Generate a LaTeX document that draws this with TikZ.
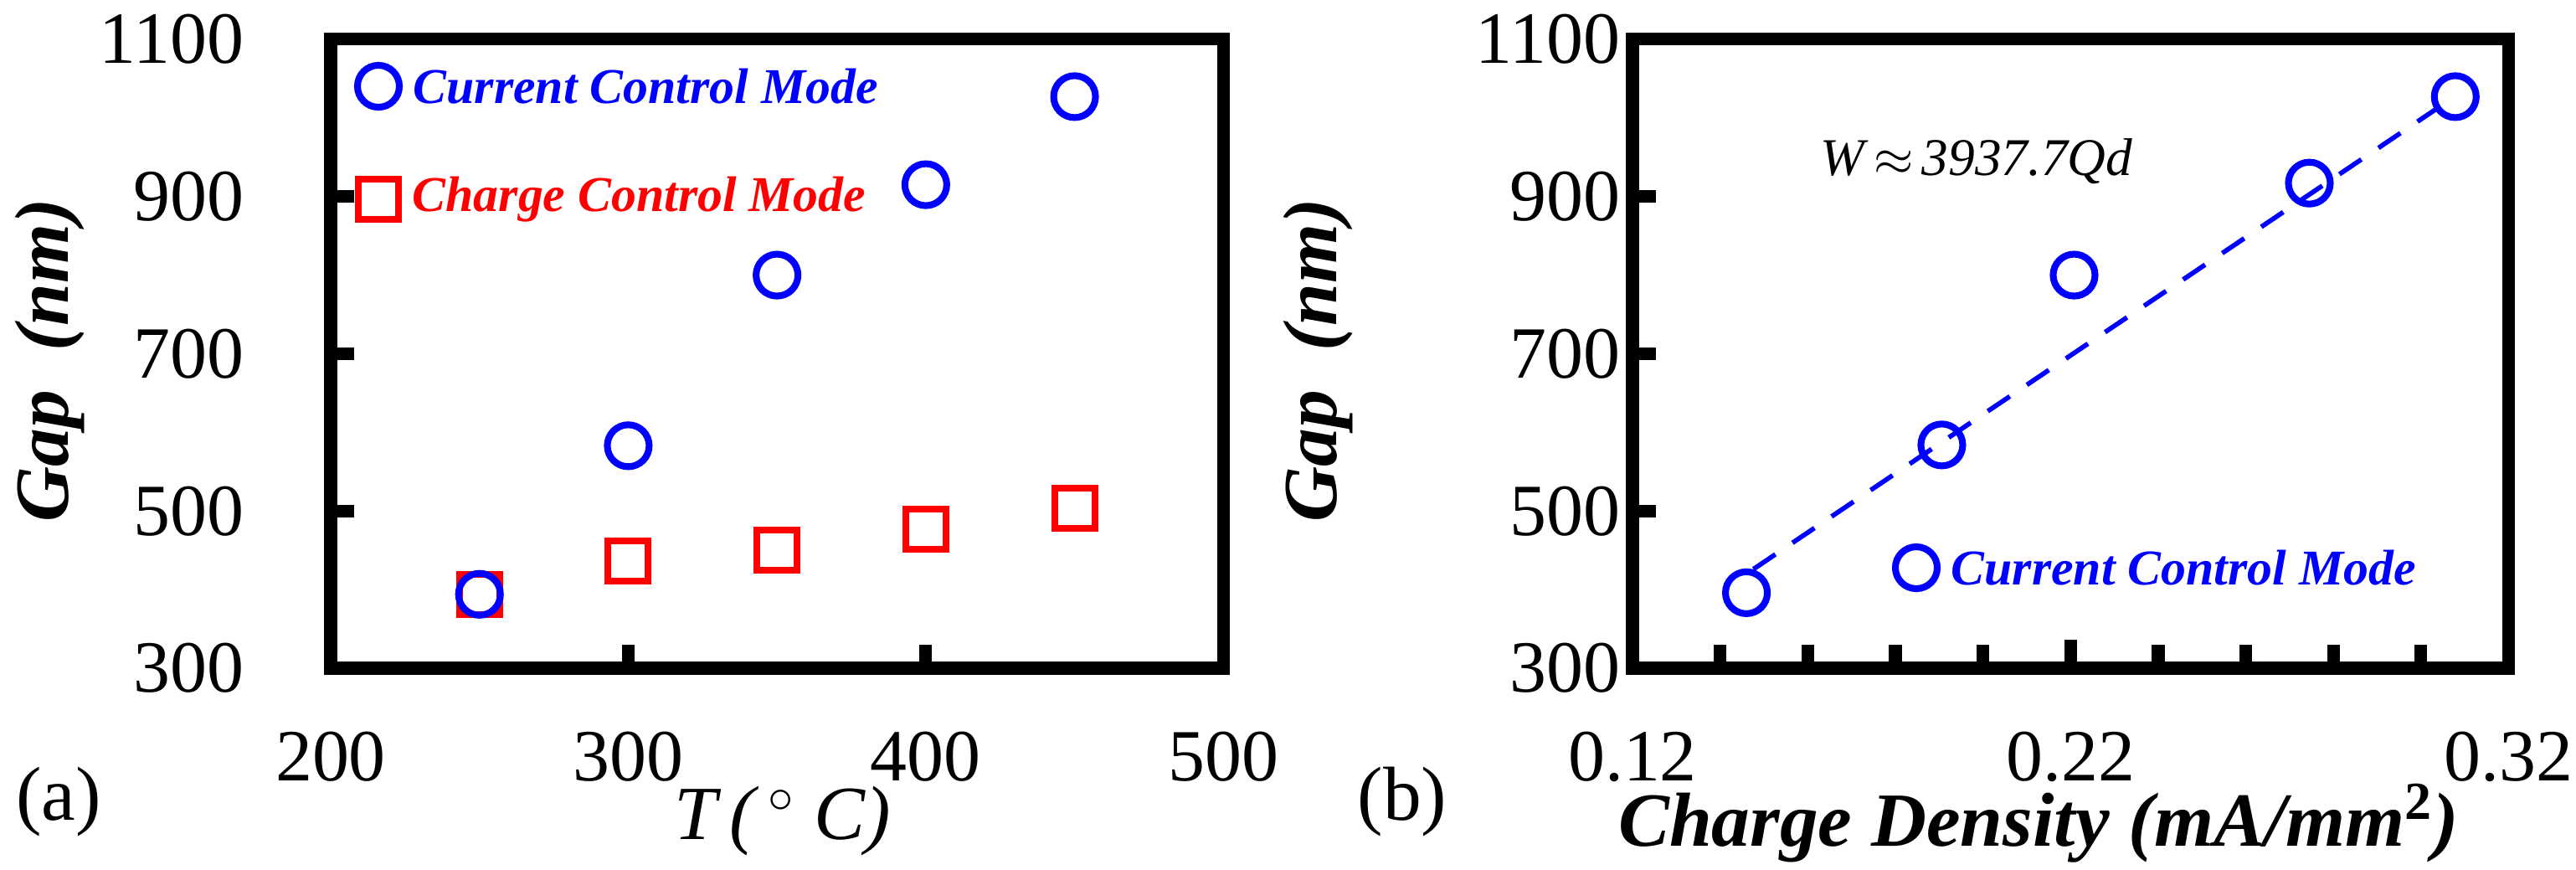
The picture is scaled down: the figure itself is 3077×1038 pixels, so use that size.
\documentclass[tikz,border=0pt]{standalone}
\usepackage{fontspec}
\setmainfont{Liberation Serif}
\usetikzlibrary{positioning}
\tikzset{
  frame/.style={line width=4.3pt, line cap=rect},
  tick/.style={line width=4.3pt},
  circ/.style={circle, draw=blue, line width=2.3pt, minimum size=0.5cm, inner sep=0pt},
  sq/.style={rectangle, draw=red, line width=2.3pt, minimum size=0.48cm, inner sep=0pt},
  ticklab/.style={font=\fontsize{25}{25}\selectfont, inner sep=0pt},
  axlab/.style={font=\fontsize{26}{26}\selectfont\bfseries\itshape, inner sep=0pt},
  legtext/.style={font=\fontsize{17}{17}\selectfont\bfseries\itshape, inner sep=0pt, anchor=west}
}
\begin{document}
\begin{tikzpicture}[x=0.01cm,y=-0.01cm]
\useasboundingbox (0,0) rectangle (3077,1038);

% (a) gap versus temperature
\begin{scope}[shift={(395,798)},x=0.03553cm,y=0.00939cm]
\draw[frame] (0,0) rectangle (300,800);
\foreach \g in {200,400,600} \draw[tick] (0,\g) -- (8,\g);
\foreach \t in {100,200} \draw[tick] (\t,0) -- (\t,30);
\foreach \t/\lab in {0/200,100/300,200/400,300/500}
  \node[ticklab] at (\t,-113) {\lab};
\foreach \g/\lab in {0/300,200/500,400/700,600/900,800/1100}
  \node[ticklab, anchor=east] at (-29,\g) {\lab};
% squares first, circles on top
\foreach \t/\g [count=\i] in {50/94,100/136,150/150,200/177,250/203}
  \node[sq] (sqa\i) at (\t,\g) {};
\foreach \t/\g [count=\i] in {50/94,100/283,150/500,200/615,250/727}
  \node[circ] (cia\i) at (\t,\g) {};
\end{scope}
\node[circ] (lega1) at (452,103) {};
\node[legtext, text=blue, right=0.12cm of lega1] {Current Control Mode};
\node[sq] (lega2) at (452,238) {};
\node[legtext, text=red, right=0.12cm of lega2] {Charge Control Mode};
\node[axlab, rotate=90] (ylaba) at (60,430) {Gap\ \ (nm)};
\node[font=\fontsize{26}{26}\selectfont\itshape, inner sep=0pt] (xlaba) at (935,980) {T\,(\,$^{\circ}$\ C)};
\node[font=\fontsize{26}{26}\selectfont, inner sep=0pt] (taga) at (70,957) {(a)};

% (b) gap versus charge density
\begin{scope}[shift={(1950,798)},x=52.3cm,y=0.00939cm]
\draw[frame] (0,0) rectangle (0.2,800);
\foreach \g in {200,400,600} \draw[tick] (0,\g) -- (0.0054,\g);
\foreach \q in {0.02,0.04,0.06,0.08,0.12,0.14,0.16,0.18} \draw[tick] (\q,0) -- (\q,30);
\draw[tick] (0.1,0) -- (0.1,36);
\foreach \q/\lab in {0/0.12,0.1/0.22,0.2/0.32}
  \node[ticklab] at (\q,-113) {\lab};
\foreach \g/\lab in {0/300,200/500,400/700,600/900,800/1100}
  \node[ticklab, anchor=east] at (-0.0027,\g) {\lab};
\coordinate (fita) at (0.0276,126);
\coordinate (fitb) at (0.1855,719);
\draw[blue, dashed, line width=1.6pt, dash pattern=on 9pt off 7pt] (fita) -- (fitb);
\foreach \q/\g [count=\i] in {0.026/96,0.0706/284,0.1008/500,0.1545/617,0.1878/727}
  \node[circ] (cib\i) at (\q,\g) {};
\end{scope}
\node[font=\fontsize{18}{18}\selectfont\itshape, inner sep=0pt] (fitlab) at (2361,193) {W\,$\approx$\,3937.7Qd};
\node[circ] (legb1) at (2289,678) {};
\node[legtext, text=blue, right=0.12cm of legb1] {Current Control Mode};
\node[axlab, rotate=90] (ylabb) at (1575,430) {Gap\ \ (nm)};
\node[axlab] (xlabb) at (2435,983) {Charge Density (mA/mm$^{\mathbf 2}$)};
\node[font=\fontsize{26}{26}\selectfont, inner sep=0pt] (tagb) at (1675,957) {(b)};
\end{tikzpicture}
\end{document}
